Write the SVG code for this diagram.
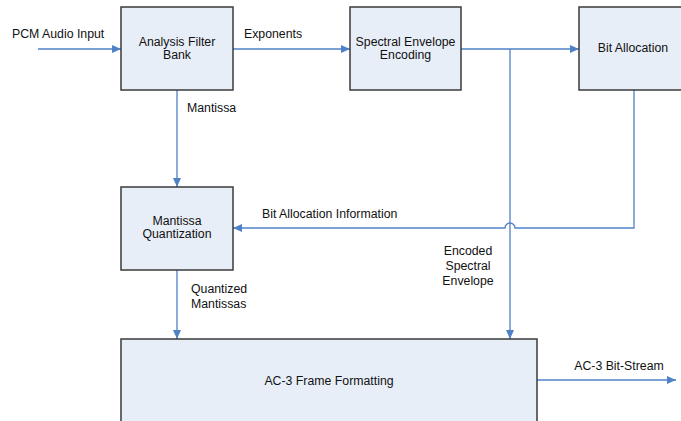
<svg xmlns="http://www.w3.org/2000/svg" width="681" height="421" viewBox="0 0 681 421">
  <style>
    .box { fill: #E8EEF7; stroke: #3A3A3A; stroke-width: 1.5; }
    .wire { fill: none; stroke: #4F81C7; stroke-width: 1.3; }
    text { font-family: "Liberation Sans", Arial, sans-serif; font-size: 12.3px; fill: #111; }
    .c { text-anchor: middle; }
  </style>
  <defs>
    <marker id="arrow" markerWidth="9" markerHeight="8" refX="9" refY="4" orient="auto" markerUnits="userSpaceOnUse">
      <path d="M0,0 L9,4 L0,8 Z" fill="#4F81C7"/>
    </marker>
  </defs>

  <rect width="681" height="421" fill="#FFFFFF"/>

  <!-- connectors -->
  <g id="connectors">
    <path class="wire" d="M38,49 H121" marker-end="url(#arrow)"/>
    <path class="wire" d="M233,49 H350" marker-end="url(#arrow)"/>
    <path class="wire" d="M461,49 H579" marker-end="url(#arrow)"/>
    <path class="wire" d="M510,49 V339" marker-end="url(#arrow)"/>
    <path class="wire" d="M177,90 V187" marker-end="url(#arrow)"/>
    <path class="wire" d="M634,90 V228 H515 A5,5 0 0 0 505,228 H233" marker-end="url(#arrow)"/>
    <path class="wire" d="M177,270 V339" marker-end="url(#arrow)"/>
    <path class="wire" d="M537,380 H676" marker-end="url(#arrow)"/>
  </g>

  <!-- connector labels -->
  <g id="labels">
    <text x="12" y="38">PCM Audio Input</text>
    <text x="244" y="38">Exponents</text>
    <text x="187" y="112">Mantissa</text>
    <text x="262" y="218">Bit Allocation Information</text>
    <text class="c" x="468" y="255">Encoded</text>
    <text class="c" x="468" y="270">Spectral</text>
    <text class="c" x="468" y="285">Envelope</text>
    <text x="191" y="293">Quantized</text>
    <text x="191" y="308">Mantissas</text>
    <text class="c" x="619" y="370">AC-3 Bit-Stream</text>
  </g>

  <g id="analysis-filter-bank">
    <rect class="box" x="121" y="7" width="112" height="83"/>
    <text class="c" x="177" y="46">Analysis Filter</text>
    <text class="c" x="177" y="59">Bank</text>
  </g>

  <g id="spectral-envelope-encoding">
    <rect class="box" x="350" y="7" width="111" height="83"/>
    <text class="c" x="405.5" y="46">Spectral Envelope</text>
    <text class="c" x="405.5" y="59">Encoding</text>
  </g>

  <g id="bit-allocation">
    <rect class="box" x="579" y="7" width="112" height="83"/>
    <text class="c" x="633" y="52">Bit Allocation</text>
  </g>

  <g id="mantissa-quantization">
    <rect class="box" x="121" y="187" width="112" height="83"/>
    <text class="c" x="177" y="225">Mantissa</text>
    <text class="c" x="177" y="238">Quantization</text>
  </g>

  <g id="ac3-frame-formatting">
    <rect class="box" x="121" y="339" width="416" height="100"/>
    <text class="c" x="329" y="385">AC-3 Frame Formatting</text>
  </g>
</svg>
